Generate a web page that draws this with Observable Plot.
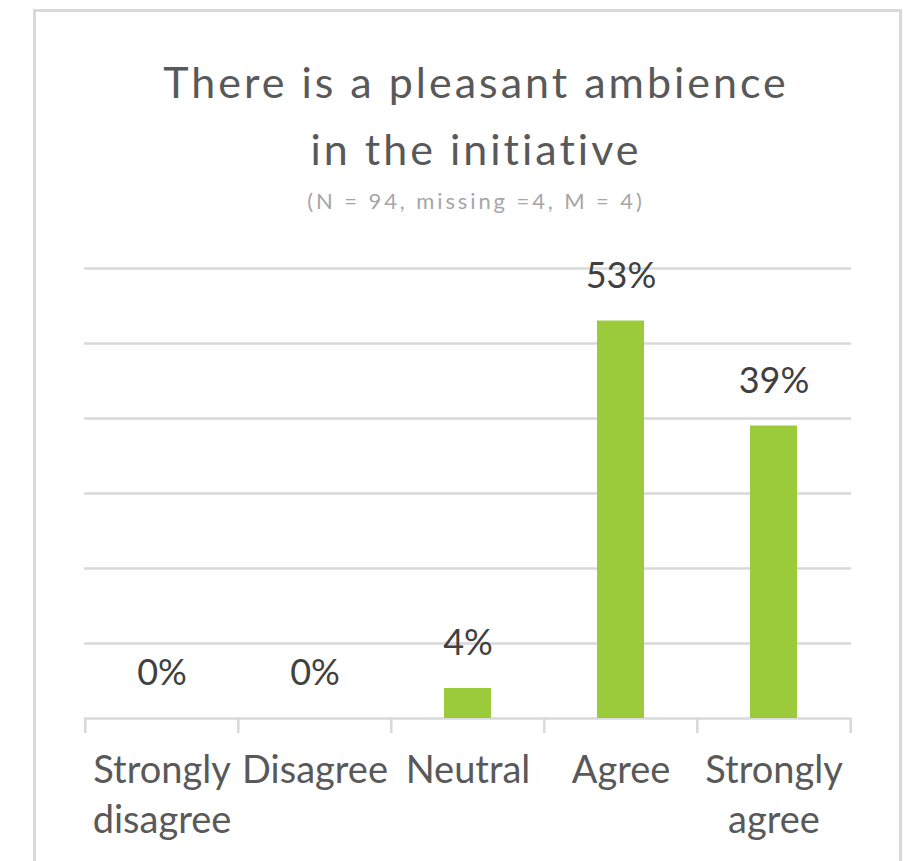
<!DOCTYPE html>
<html>
<head>
<meta charset="utf-8">
<script src="https://cdn.jsdelivr.net/npm/d3@7"></script>
<script src="https://cdn.jsdelivr.net/npm/@observablehq/plot@0.6"></script>
<style>
  html, body { margin: 0; padding: 0; background: #fff; }
  #wrap { position: relative; width: 911px; height: 861px; overflow: hidden; font-family: Lato, "Noto Sans", sans-serif; }
  #frame { position: absolute; left: 33px; top: 9px; width: 869px; height: 900px; border: 3px solid #d9d9d9; box-sizing: border-box; }
  #title { position: absolute; left: 19px; width: 911px; top: 48px; text-align: center; font-size: 43px; line-height: 67px; color: #595959; letter-spacing: 3px; padding-left: 3px; box-sizing: border-box; }
  #subtitle { position: absolute; left: 19px; width: 911px; top: 188px; text-align: center; font-size: 22px; line-height: 26px; color: #a6a6a6; letter-spacing: 2.9px; padding-left: 3px; box-sizing: border-box; }
  #chart { position: absolute; left: 0; top: 230px; }
</style>
</head>
<body>
<div id="wrap">
  <div id="frame"></div>
  <div id="title">There is a pleasant ambience<br>in the initiative</div>
  <div id="subtitle">(N = 94, missing =4, M = 4)</div>
  <div id="chart"></div>
</div>
<script>
const categories = ["Strongly disagree", "Disagree", "Neutral", "Agree", "Strongly agree"];
const values = [0, 0, 4, 53, 39];
const tickLabels = ["Strongly\ndisagree", "Disagree", "Neutral", "Agree", "Strongly\nagree"];
const yTicks = [0, 10, 20, 30, 40, 50, 60];

const data = categories.map((c, i) => ({category: c, value: values[i], label: tickLabels[i]}));

const W = 911, H = 631, ML = 84, MR = 60, MT = 38, MB = 143;
const step = (W - ML - MR) / categories.length;

const chart = Plot.plot({
  width: W,
  height: H,
  marginLeft: ML,
  marginRight: MR,
  marginTop: MT,
  marginBottom: MB,
  style: {fontFamily: "Lato, 'Noto Sans', sans-serif", background: "transparent"},
  x: {domain: categories, paddingInner: 0.69, paddingOuter: 0.345, axis: null},
  y: {domain: [0, 60], axis: null},
  marks: [
    Plot.ruleY(yTicks, {stroke: "#d9d9d9", strokeWidth: 2.5}),
    Plot.ruleX(categories, {x: d => d, y1: 0, y2: 0, dx: -step / 2, insetBottom: -15, stroke: "#d9d9d9", strokeWidth: 2.5}),
    Plot.ruleX(categories.slice(-1), {x: d => d, y1: 0, y2: 0, dx: step / 2, insetBottom: -15, stroke: "#d9d9d9", strokeWidth: 2.5}),
    Plot.barY(data, {x: "category", y: "value", fill: "#9bcb3b"}),
    Plot.text(data, {x: "category", y: "value", text: d => d.value + "%", dy: -45, lineAnchor: "middle", fontSize: 36, fill: "#404040"}),
    Plot.text(data, {x: "category", y: 0, text: "label", dy: 29, lineAnchor: "top", lineHeight: 1.32, fontSize: 38, fill: "#595959"})
  ]
});
document.getElementById("chart").appendChild(chart);
</script>
</body>
</html>
